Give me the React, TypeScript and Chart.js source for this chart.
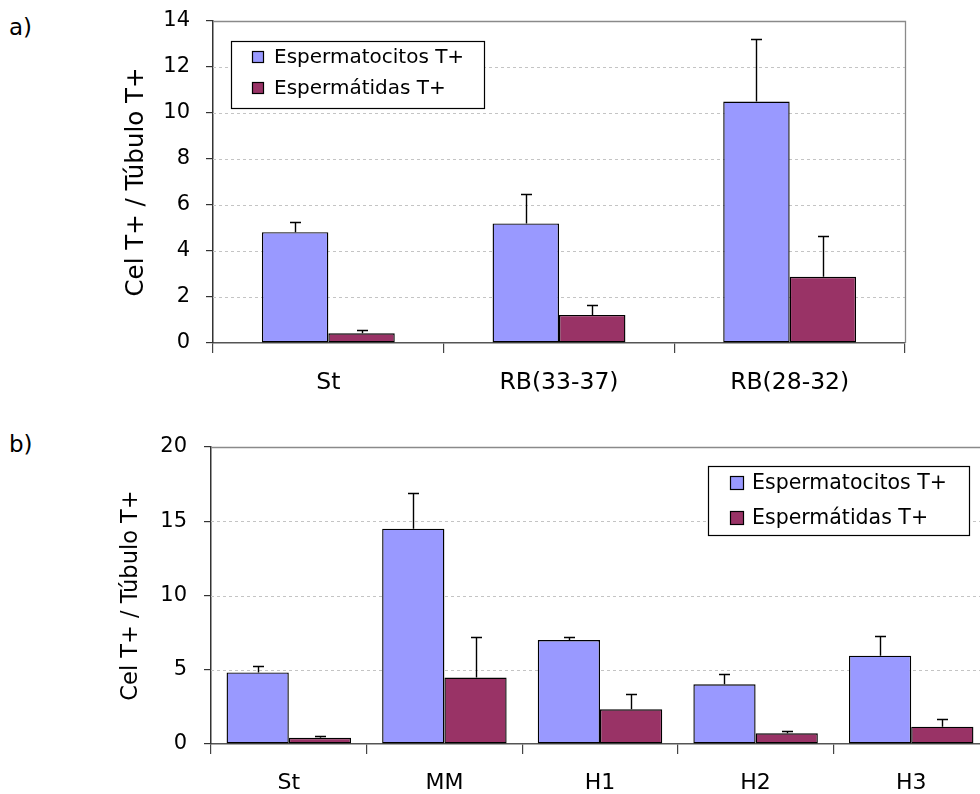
import React, { useEffect, useRef } from 'react';
import { Chart, registerables } from 'chart.js';

Chart.register(...registerables);

const FONT = "'DejaVu Sans', Verdana, sans-serif";

// ---------- Data ----------
const seriesLabels = ['Espermatocitos T+', 'Espermátidas T+'];
const seriesColors = ['#9999FF', '#993366'];
const yTitle = 'Cel T+ / Túbulo T+';

// Panel a)
const categoriesA = ['St', 'RB(33-37)', 'RB(28-32)'];
const espermatocitosA = [4.82, 5.2, 10.5];
const espermatocitosErrA = [0.45, 1.28, 2.7];
const espermatidasA = [0.42, 1.22, 2.88];
const espermatidasErrA = [0.13, 0.43, 1.77];
const yMinA = 0;
const yMaxA = 14;
const yStepA = 2;

// Panel b)
const categoriesB = ['St', 'MM', 'H1', 'H2', 'H3'];
const espermatocitosB = [4.82, 14.5, 7.0, 4.02, 5.95];
const espermatocitosErrB = [0.42, 2.4, 0.22, 0.68, 1.35];
const espermatidasB = [0.42, 4.47, 2.34, 0.72, 1.17];
const espermatidasErrB = [0.1, 2.74, 1.01, 0.18, 0.52];
const yMinB = 0;
const yMaxB = 20;
const yStepB = 5;

// ---------- Plugins ----------
const gridPlugin = {
  id: 'dashGrid',
  beforeDatasetsDraw(chart: any) {
    const { ctx, chartArea: a, scales } = chart;
    const y = scales.y;
    ctx.save();
    ctx.strokeStyle = '#c4c4c4';
    ctx.lineWidth = 1;
    ctx.setLineDash([3, 3]);
    y.ticks.forEach((t: any) => {
      if (t.value <= y.min || t.value >= y.max) return;
      const py = Math.round(y.getPixelForValue(t.value)) + 0.5;
      ctx.beginPath();
      ctx.moveTo(a.left, py);
      ctx.lineTo(a.right, py);
      ctx.stroke();
    });
    ctx.setLineDash([]);
    ctx.strokeStyle = '#8a8a8a';
    ctx.lineWidth = 1.3;
    ctx.beginPath();
    ctx.moveTo(a.left, a.top + 0.5);
    ctx.lineTo(a.right + 0.5, a.top + 0.5);
    ctx.lineTo(a.right + 0.5, a.bottom);
    ctx.stroke();
    ctx.restore();
  },
};

const errorBarPlugin = {
  id: 'errorBars',
  afterDatasetsDraw(chart: any) {
    const { ctx } = chart;
    const y = chart.scales.y;
    ctx.save();
    ctx.strokeStyle = '#000';
    ctx.lineWidth = 1.4;
    chart.data.datasets.forEach((ds: any, i: number) => {
      const meta = chart.getDatasetMeta(i);
      meta.data.forEach((bar: any, j: number) => {
        const v = ds.data[j];
        const e = ds.errors[j];
        const top = Math.round(y.getPixelForValue(v + e)) + 0.5;
        const x = Math.round(bar.x) + 0.5;
        ctx.beginPath();
        ctx.moveTo(x, bar.y);
        ctx.lineTo(x, top);
        ctx.moveTo(x - 5.5, top);
        ctx.lineTo(x + 5.5, top);
        ctx.stroke();
      });
    });
    ctx.restore();
  },
};

const boxLegendPlugin = {
  id: 'boxLegend',
  afterDatasetsDraw(chart: any, _args: any, o: any) {
    const { ctx } = chart;
    ctx.save();
    ctx.fillStyle = '#fff';
    ctx.fillRect(o.x, o.y, o.w, o.h);
    ctx.strokeStyle = '#000';
    ctx.lineWidth = 1.2;
    ctx.strokeRect(o.x + 0.5, o.y + 0.5, o.w, o.h);
    ctx.font = `${o.fontSize}px ${FONT}`;
    ctx.textBaseline = 'middle';
    ctx.textAlign = 'left';
    chart.data.datasets.forEach((ds: any, i: number) => {
      const cy = o.rows[i];
      ctx.fillStyle = ds.backgroundColor;
      ctx.fillRect(o.swX, cy - o.sw / 2, o.sw, o.sw);
      ctx.strokeStyle = '#000';
      ctx.lineWidth = 1.2;
      ctx.strokeRect(o.swX + 0.5, cy - o.sw / 2 + 0.5, o.sw - 1, o.sw - 1);
      ctx.fillStyle = '#000';
      ctx.fillText(ds.label, o.textX, cy + 1);
    });
    ctx.restore();
  },
};

function makeConfig(p: any): any {
  return {
    type: 'bar',
    data: {
      labels: p.categories,
      datasets: [
        {
          label: seriesLabels[0],
          data: p.blue,
          errors: p.blueErr,
          backgroundColor: seriesColors[0],
          borderColor: '#000',
          borderWidth: 1.4,
          borderSkipped: false,
          categoryPercentage: p.catPct,
          barPercentage: 1,
        },
        {
          label: seriesLabels[1],
          data: p.red,
          errors: p.redErr,
          backgroundColor: seriesColors[1],
          borderColor: '#000',
          borderWidth: 1.4,
          borderSkipped: false,
          categoryPercentage: p.catPct,
          barPercentage: 1,
        },
      ],
    },
    options: {
      responsive: false,
      animation: false,
      events: [],
      layout: { padding: { top: p.padTop, right: p.padRight, left: 0, bottom: 0 } },
      plugins: {
        legend: { display: false },
        tooltip: { enabled: false },
        boxLegend: p.legend,
      },
      scales: {
        x: {
          type: 'category',
          offset: true,
          grid: {
            offset: true,
            drawOnChartArea: false,
            drawTicks: true,
            tickLength: 10,
            color: '#444',
            lineWidth: 1.2,
          },
          border: { display: true, color: '#555', width: 1.5 },
          ticks: {
            color: '#000',
            font: { family: FONT, size: p.xFont },
            padding: 16,
            maxRotation: 0,
            autoSkip: false,
          },
          afterFit: (s: any) => {
            s.height = p.xHeight;
          },
        },
        y: {
          min: p.yMin,
          max: p.yMax,
          grid: {
            drawOnChartArea: false,
            drawTicks: true,
            tickLength: 7,
            color: '#333',
            lineWidth: 1.2,
          },
          border: { display: true, color: '#333', width: 1.5 },
          ticks: {
            stepSize: p.yStep,
            color: '#000',
            font: { family: FONT, size: p.yFont },
            padding: p.yTickPad,
          },
          title: {
            display: true,
            text: yTitle,
            color: '#000',
            font: { family: FONT, size: p.titleFont },
            padding: { top: p.titlePad, bottom: 0 },
          },
          afterFit: (s: any) => {
            s.width = p.yWidth;
            s.paddingTop = 12;
            s.paddingBottom = 12;
          },
        },
      },
    },
    plugins: [gridPlugin, errorBarPlugin, boxLegendPlugin],
  };
}

function BarPanel({ config, width, height, top }: any) {
  const ref = useRef<HTMLCanvasElement | null>(null);
  useEffect(() => {
    if (!ref.current) return;
    const chart = new Chart(ref.current, config);
    return () => chart.destroy();
  }, []);
  return (
    <canvas
      ref={ref}
      width={width}
      height={height}
      style={{ position: 'absolute', left: 0, top, width, height }}
    />
  );
}

export default function App() {
  const cfgA = makeConfig({
    categories: categoriesA,
    blue: espermatocitosA,
    blueErr: espermatocitosErrA,
    red: espermatidasA,
    redErr: espermatidasErrA,
    yMin: yMinA,
    yMax: yMaxA,
    yStep: yStepA,
    catPct: 0.576,
    padTop: 21,
    padRight: 75,
    yWidth: 213,
    xHeight: 57,
    xFont: 23.5,
    yFont: 21,
    yTickPad: 16,
    titleFont: 24.5,
    titlePad: 122,
    legend: { x: 231, y: 41, w: 253, h: 67, swX: 252, sw: 12, rows: [57, 88], textX: 274, fontSize: 20 },
  });
  const cfgB = makeConfig({
    categories: categoriesB,
    blue: espermatocitosB,
    blueErr: espermatocitosErrB,
    red: espermatidasB,
    redErr: espermatidasErrB,
    yMin: yMinB,
    yMax: yMaxB,
    yStep: yStepB,
    catPct: 0.8,
    padTop: 47,
    padRight: 11,
    yWidth: 211,
    xHeight: 50,
    xFont: 22,
    yFont: 21,
    yTickPad: 17,
    titleFont: 22.5,
    titlePad: 118,
    legend: { x: 708, y: 66, w: 261, h: 69, swX: 730, sw: 14, rows: [83, 118], textX: 752, fontSize: 20.5 },
  });
  return (
    <div
      style={{
        position: 'fixed',
        left: 0,
        top: 0,
        width: 980,
        height: 794,
        overflow: 'hidden',
        background: '#fff',
        fontFamily: FONT,
      }}
    >
      <div style={{ position: 'absolute', left: 9, top: 16, fontSize: 23, lineHeight: '23px' }}>a)</div>
      <div style={{ position: 'absolute', left: 9, top: 433, fontSize: 23, lineHeight: '23px' }}>b)</div>
      <BarPanel config={cfgA} width={980} height={400} top={0} />
      <BarPanel config={cfgB} width={1000} height={394} top={400} />
    </div>
  );
}
